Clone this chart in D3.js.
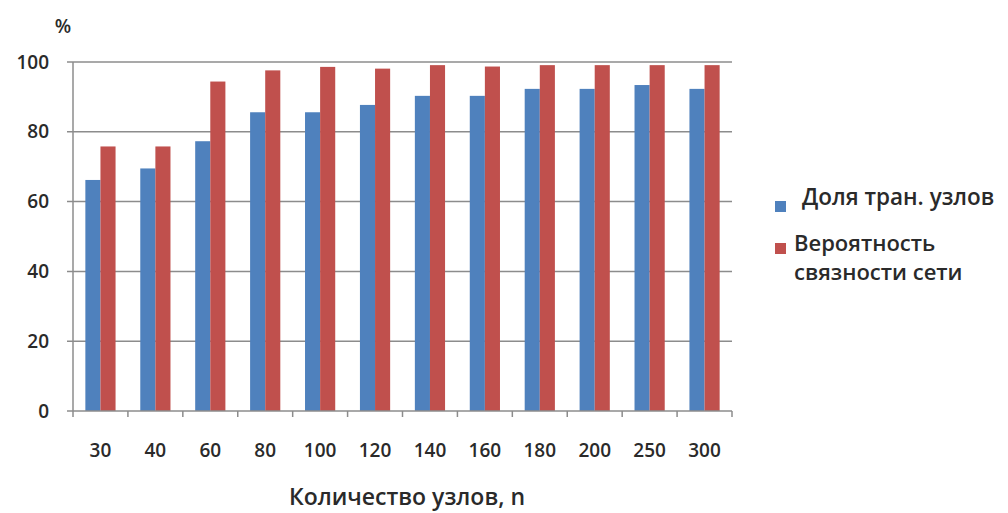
<!DOCTYPE html>
<html>
<head>
<meta charset="utf-8">
<script src="https://cdn.jsdelivr.net/npm/d3@7"></script>
<style>
  body { margin: 0; background: #fff; }
  text { font-family: "Open Sans", sans-serif; fill: #2a2a2a; font-weight: 600; }
</style>
</head>
<body>
<svg id="chart" width="1008" height="513"></svg>
<script>
// Number of nodes in the network
const categories = ["30", "40", "60", "80", "100", "120", "140", "160", "180", "200", "250", "300"];
// Share of transit nodes, %
const transitShare = [66.2, 69.5, 77.3, 85.6, 85.6, 87.7, 90.3, 90.3, 92.3, 92.3, 93.4, 92.3];
// Network connectivity probability, %
const connectivity = [75.8, 75.8, 94.4, 97.6, 98.6, 98.1, 99.1, 98.7, 99.1, 99.1, 99.1, 99.1];
const yTicks = [0, 20, 40, 60, 80, 100];
const seriesNames = ["Доля тран. узлов", "Вероятность связности сети"];
const colors = ["#4F81BD", "#C0504D"];

const svg = d3.select("#chart");
const plot = { left: 73, right: 732, top: 62, bottom: 411 };

const x = d3.scaleBand().domain(categories).range([plot.left, plot.right]).paddingInner(0.45).paddingOuter(0.225);
const xSub = d3.scaleBand().domain([0, 1]).range([0, x.bandwidth()]);
const y = d3.scaleLinear().domain([0, 100]).range([plot.bottom, plot.top]);

// Horizontal gridlines with small ticks left of the axis
svg.append("g").selectAll("line").data(yTicks.filter(d => d > 0)).join("line")
  .attr("x1", plot.left - 6).attr("x2", plot.right)
  .attr("y1", d => y(d)).attr("y2", d => y(d))
  .attr("stroke", "#8c8c8c").attr("stroke-width", 1.5);

// Bars
const groups = svg.append("g").selectAll("g").data(categories).join("g")
  .attr("transform", d => `translate(${x(d)},0)`);
[transitShare, connectivity].forEach((vals, s) => {
  groups.append("rect")
    .attr("x", xSub(s))
    .attr("width", xSub.bandwidth())
    .attr("y", (d, i) => y(vals[i]))
    .attr("height", (d, i) => y(0) - y(vals[i]))
    .attr("fill", colors[s]);
});

// Vertical axis line
svg.append("line").attr("x1", plot.left).attr("x2", plot.left).attr("y1", plot.top).attr("y2", plot.bottom)
  .attr("stroke", "#8c8c8c").attr("stroke-width", 1.5);

// Bottom axis line with ticks on category boundaries
svg.append("line").attr("x1", plot.left - 6).attr("x2", plot.right).attr("y1", plot.bottom).attr("y2", plot.bottom)
  .attr("stroke", "#8c8c8c").attr("stroke-width", 1.5);
const step = x.step();
svg.append("g").selectAll("line").data(d3.range(categories.length + 1)).join("line")
  .attr("x1", i => plot.left + i * step).attr("x2", i => plot.left + i * step)
  .attr("y1", plot.bottom).attr("y2", plot.bottom + 6)
  .attr("stroke", "#8c8c8c").attr("stroke-width", 1.5);

// Y tick labels
svg.append("g").selectAll("text").data(yTicks).join("text")
  .attr("x", plot.left - 24).attr("y", d => y(d)).attr("dy", "0.35em")
  .attr("text-anchor", "end").attr("font-size", 19)
  .text(d => d);

// X tick labels
svg.append("g").selectAll("text").data(categories).join("text")
  .attr("x", d => x(d) + x.bandwidth() / 2).attr("y", 457)
  .attr("text-anchor", "middle").attr("font-size", 19)
  .text(d => d);

// Axis titles
svg.append("text").attr("x", 63).attr("y", 33).attr("text-anchor", "middle")
  .attr("font-size", 19).text("%");
svg.append("text").attr("x", 407).attr("y", 505).attr("text-anchor", "middle")
  .attr("font-size", 23).text("Количество узлов, n");

// Legend
const legend = svg.append("g");
legend.append("rect").attr("x", 775).attr("y", 201).attr("width", 11).attr("height", 11).attr("fill", colors[0]);
legend.append("text").attr("x", 802).attr("y", 205).attr("font-size", 22.5).text(seriesNames[0]);
legend.append("rect").attr("x", 775).attr("y", 243).attr("width", 11).attr("height", 11).attr("fill", colors[1]);
legend.append("text").attr("x", 794).attr("y", 251).attr("font-size", 22)
  .selectAll("tspan").data(["Вероятность", "связности сети"]).join("tspan")
  .attr("x", 794).attr("dy", (d, i) => i === 0 ? 0 : 29).text(d => d);
</script>
</body>
</html>
